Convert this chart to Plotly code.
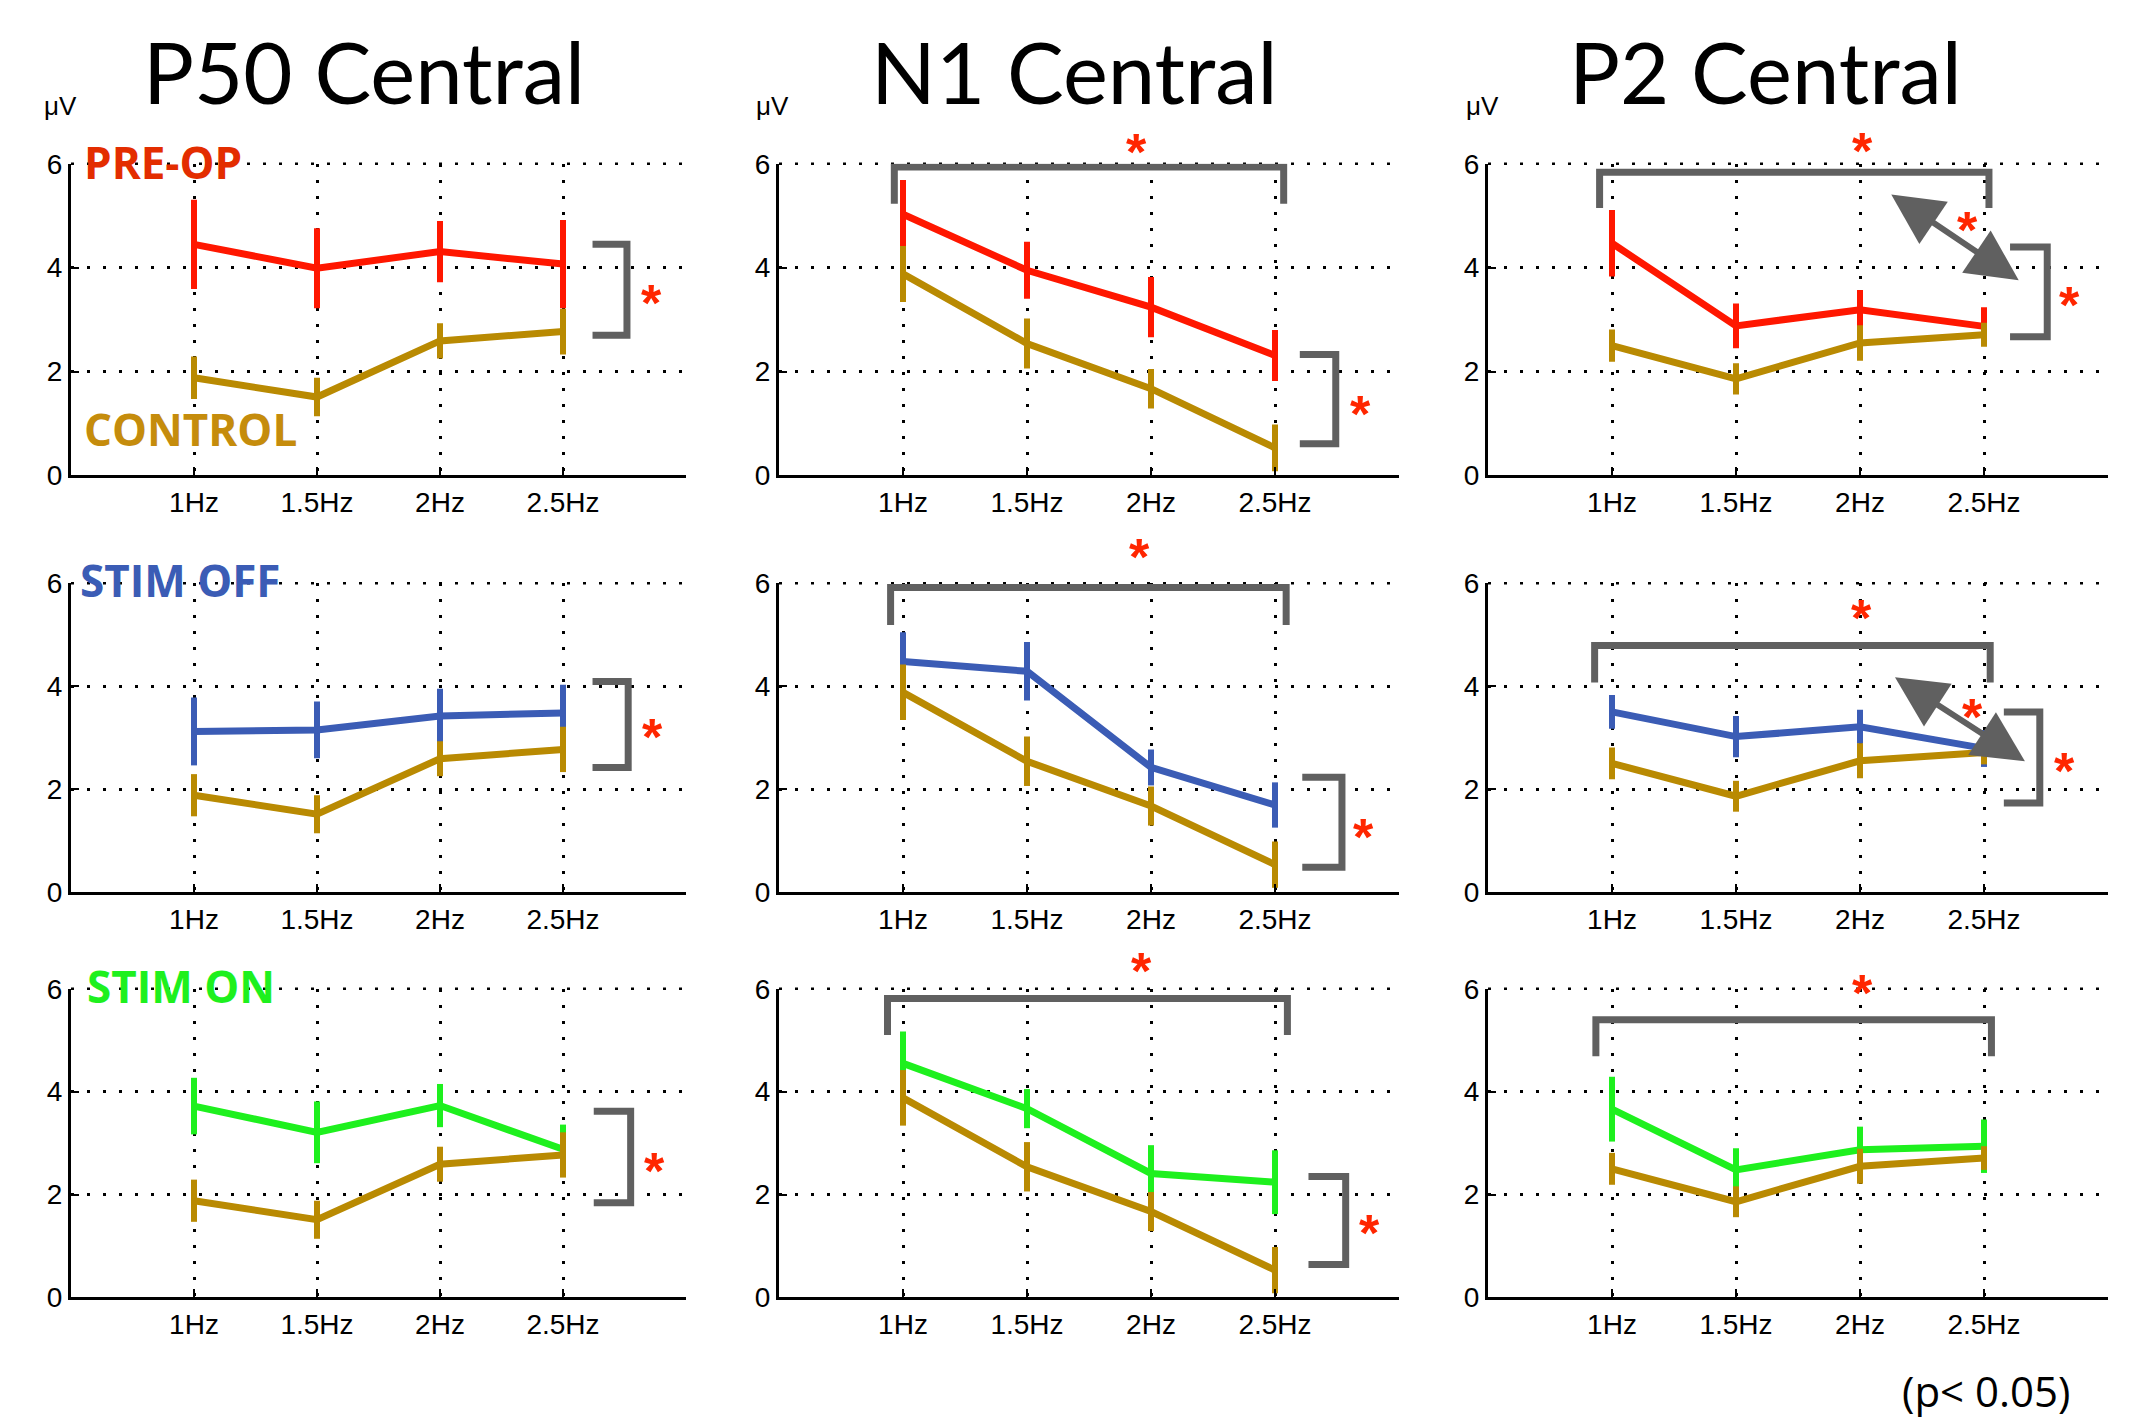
import plotly.graph_objects as go

# ---------------- data ----------------
freq_labels = ["1Hz", "1.5Hz", "2Hz", "2.5Hz"]
freq_pos = [1, 2, 3, 4]
y_ticks = [0, 2, 4, 6]
component_titles = ["P50 Central", "N1 Central", "P2 Central"]
group_names = ["PRE-OP", "STIM OFF", "STIM ON"]
control_name = "CONTROL"

control_p50 = [1.88, 1.51, 2.59, 2.77]
control_p50_err = [0.41, 0.37, 0.34, 0.44]
control_n1 = [3.88, 2.54, 1.67, 0.53]
control_n1_err = [0.54, 0.48, 0.38, 0.45]
control_p2 = [2.50, 1.86, 2.55, 2.71]
control_p2_err = [0.31, 0.30, 0.34, 0.23]

preop_p50 = [4.45, 3.99, 4.31, 4.07]
preop_p50_err = [0.86, 0.77, 0.59, 0.85]
preop_n1 = [5.03, 3.95, 3.24, 2.31]
preop_n1_err = [0.66, 0.55, 0.58, 0.49]
preop_p2 = [4.47, 2.88, 3.19, 2.87]
preop_p2_err = [0.64, 0.43, 0.38, 0.37]

stimoff_p50 = [3.12, 3.15, 3.42, 3.48]
stimoff_p50_err = [0.66, 0.55, 0.53, 0.55]
stimoff_n1 = [4.48, 4.29, 2.42, 1.69]
stimoff_n1_err = [0.57, 0.57, 0.35, 0.44]
stimoff_p2 = [3.50, 3.02, 3.21, 2.79]
stimoff_p2_err = [0.33, 0.40, 0.33, 0.36]

stimon_p50 = [3.72, 3.21, 3.73, 2.88]
stimon_p50_err = [0.55, 0.60, 0.42, 0.48]
stimon_n1 = [4.55, 3.67, 2.41, 2.24]
stimon_n1_err = [0.62, 0.38, 0.55, 0.62]
stimon_p2 = [3.66, 2.48, 2.87, 2.94]
stimon_p2_err = [0.63, 0.42, 0.45, 0.52]

control_series = [(control_p50, control_p50_err), (control_n1, control_n1_err), (control_p2, control_p2_err)]
group_series = [
    [(preop_p50, preop_p50_err), (preop_n1, preop_n1_err), (preop_p2, preop_p2_err)],
    [(stimoff_p50, stimoff_p50_err), (stimoff_n1, stimoff_n1_err), (stimoff_p2, stimoff_p2_err)],
    [(stimon_p50, stimon_p50_err), (stimon_n1, stimon_n1_err), (stimon_p2, stimon_p2_err)],
]

# ---------------- styles ----------------
W, H = 2145, 1422
group_colors = ["#FF1700", "#3B5CB5", "#1EF01E"]
group_text_colors = ["#E32D00", "#3B5CB5", "#1EF01E"]
control_color = "#B98A02"
control_text_color = "#C58C0C"
bracket_color = "#606060"
star_color = "#FF2600"

# on-screen targets (px) and the vertical correction observed in the renderer
V_OFF, V_SCALE = 14.0, 0.9794


def vy(t):
    """screen-pixel target -> layout pixel"""
    return (t - V_OFF) / V_SCALE


col_px = [(71, 686), (779, 1399), (1488, 2108)]
row_px_screen = [(163, 475), (583, 892), (989, 1298)]
row_px = [(vy(a), vy(b)) for a, b in row_px_screen]

# significance marks (annotation geometry in data units)
top_brackets = {  # (row, col): (x0, x1, ybar, yleg, star_x, star_y)
    (0, 1): (0.93, 4.07, 5.94, 5.23, 2.88, 6.55),
    (0, 2): (0.90, 4.04, 5.84, 5.15, 3.02, 6.58),
    (1, 1): (0.90, 4.09, 5.92, 5.19, 2.91, 6.77),
    (1, 2): (0.86, 4.05, 4.79, 4.07, 3.01, 5.57),
    (2, 1): (0.875, 4.10, 5.81, 5.10, 2.92, 6.60),
    (2, 2): (0.87, 4.06, 5.40, 4.69, 3.02, 6.18),
}
right_brackets = {  # (row, col): (x_stub, x_vert, ytop, ybot, star_x, star_y)
    (0, 0): (4.24, 4.52, 4.45, 2.70, 4.72, 3.58),
    (0, 1): (4.20, 4.49, 2.33, 0.61, 4.69, 1.44),
    (0, 2): (4.21, 4.51, 4.40, 2.67, 4.69, 3.54),
    (1, 0): (4.24, 4.53, 4.09, 2.42, 4.73, 3.26),
    (1, 1): (4.22, 4.54, 2.23, 0.48, 4.71, 1.32),
    (1, 2): (4.16, 4.45, 3.50, 1.73, 4.65, 2.60),
    (2, 0): (4.25, 4.55, 3.62, 1.84, 4.74, 2.71),
    (2, 1): (4.27, 4.57, 2.35, 0.64, 4.76, 1.50),
}
arrows = {  # (row, col): (xa, ya, xb, yb, star_x, star_y)
    (0, 2): (3.24, 5.43, 4.28, 3.76, 3.87, 4.98),
    (1, 2): (3.27, 4.19, 4.33, 2.54, 3.91, 3.66),
}


def to_paper(r, c, x, y):
    x0p, x1p = col_px[c]
    ytp, ybp = row_px[r]
    px = x0p + x / 5.0 * (x1p - x0p)
    py = ybp - y / 6.0 * (ybp - ytp)
    return px / W, 1 - py / H


fig = go.Figure()
layout = dict(
    width=W, height=H, autosize=False,
    margin=dict(l=0, r=0, t=0, b=0, pad=0),
    paper_bgcolor="white", plot_bgcolor="white",
    showlegend=False,
)
annotations = []
shapes = []

tick_font = dict(family="Liberation Sans, Arial, sans-serif", size=28, color="black")
grid_dash = "3px,13px"
star_font = dict(family="Liberation Sans, Arial", size=52, color=star_color)


def add_star(r, c, x, y, shift=-4):
    sx, sy = to_paper(r, c, x, y)
    annotations.append(dict(x=sx, y=sy, xref="paper", yref="paper", text="<b>*</b>",
                            xanchor="center", yanchor="middle", height=40, valign="top",
                            showarrow=False, font=star_font, yshift=shift))


for r in range(3):
    for c in range(3):
        k = r * 3 + c + 1
        xa = "x" if k == 1 else f"x{k}"
        ya = "y" if k == 1 else f"y{k}"
        x0p, x1p = col_px[c]
        ytp, ybp = row_px[r]
        layout[f"xaxis{k}"] = dict(
            domain=[x0p / W, x1p / W], anchor=ya, range=[0, 5],
            tickvals=freq_pos, ticktext=freq_labels, ticks="inside", ticklen=8,
            tickwidth=2, tickcolor="black", showline=True, linecolor="black",
            linewidth=3, showgrid=True, gridcolor="black", gridwidth=2.5,
            griddash=grid_dash, zeroline=False, tickfont=tick_font, fixedrange=True,
        )
        layout[f"yaxis{k}"] = dict(
            domain=[1 - ybp / H, 1 - ytp / H], anchor=xa, range=[0, 6],
            tickvals=y_ticks, ticks="inside", ticklen=8, tickwidth=2,
            tickcolor="black", showline=True, linecolor="black", linewidth=3,
            showgrid=True, gridcolor="black", gridwidth=2.5, griddash=grid_dash,
            zeroline=False, tickfont=tick_font, fixedrange=True,
        )
        # top dotted grid line at the upper limit (plotly drops the edge gridline)
        gx0, gy = to_paper(r, c, 0, 6)
        gx1, _ = to_paper(r, c, 5, 6)
        shapes.append(dict(type="line", xref="paper", yref="paper", x0=gx0, x1=gx1, y0=gy, y1=gy,
                           line=dict(color="black", width=2.5, dash=grid_dash), layer="below"))

        gm, ge = group_series[r][c]
        cm, ce = control_series[c]
        fig.add_trace(go.Scatter(
            x=freq_pos, y=gm, mode="lines", xaxis=xa, yaxis=ya,
            line=dict(color=group_colors[r], width=7),
            error_y=dict(type="data", array=ge, visible=True, color=group_colors[r], thickness=6, width=0),
            hoverinfo="skip",
        ))
        fig.add_trace(go.Scatter(
            x=freq_pos, y=cm, mode="lines", xaxis=xa, yaxis=ya,
            line=dict(color=control_color, width=7),
            error_y=dict(type="data", array=ce, visible=True, color=control_color, thickness=6, width=0),
            hoverinfo="skip",
        ))
        if (r, c) in top_brackets:
            bx0, bx1, yb, yl, sx, sy = top_brackets[(r, c)]
            shapes.append(dict(type="path", xref=xa, yref=ya,
                               path=f"M {bx0},{yl} L {bx0},{yb} L {bx1},{yb} L {bx1},{yl}",
                               line=dict(color=bracket_color, width=7)))
            add_star(r, c, sx, sy, shift=-8 if r == 0 else -4)
        if (r, c) in right_brackets:
            xs, xv, yt, yb2, sx, sy = right_brackets[(r, c)]
            shapes.append(dict(type="path", xref=xa, yref=ya,
                               path=f"M {xs},{yt} L {xv},{yt} L {xv},{yb2} L {xs},{yb2}",
                               line=dict(color=bracket_color, width=7)))
            add_star(r, c, sx, sy)
        if (r, c) in arrows:
            xa_, ya_, xb_, yb_, sx, sy = arrows[(r, c)]
            annotations.append(dict(x=xb_, y=yb_, ax=xa_, ay=ya_, xref=xa, yref=ya,
                                    axref=xa, ayref=ya, text="", showarrow=True,
                                    arrowhead=2, arrowside="end+start", arrowsize=1.7,
                                    arrowwidth=6, arrowcolor=bracket_color))
            add_star(r, c, sx, sy)

# group labels
label_font = "Open Sans, Noto Sans, sans-serif"
label_pos = [(0.09, 6.04), (0.06, 6.06), (0.11, 6.06)]
for r in range(3):
    lx, ly = to_paper(r, 0, *label_pos[r])
    annotations.append(dict(x=lx, y=ly, xref="paper", yref="paper", xanchor="left", yanchor="middle",
                            text=f"<b>{group_names[r]}</b>", showarrow=False,
                            font=dict(family=label_font, size=44, color=group_text_colors[r])))
cx, cy = to_paper(0, 0, 0.09, 0.90)
annotations.append(dict(x=cx, y=cy, xref="paper", yref="paper", xanchor="left", yanchor="middle",
                        text=f"<b>{control_name}</b>", showarrow=False,
                        font=dict(family=label_font, size=44, color=control_text_color)))

# titles
title_cx = [364, 1074, 1765]
for c in range(3):
    annotations.append(dict(x=title_cx[c] / W, y=1 - vy(70) / H, xref="paper", yref="paper",
                            xanchor="center", yanchor="middle", text=component_titles[c],
                            showarrow=False,
                            font=dict(family="Lato, Open Sans, sans-serif", size=85, color="black")))

# unit labels
unit_x = [60, 772, 1482]
for c in range(3):
    annotations.append(dict(x=unit_x[c] / W, y=1 - vy(105) / H, xref="paper", yref="paper",
                            xanchor="center", yanchor="middle", text="μV", showarrow=False,
                            font=dict(family="Liberation Sans, Arial", size=26, color="black")))

# p-value note
annotations.append(dict(x=2072 / W, y=1 - vy(1391) / H, xref="paper", yref="paper",
                        xanchor="right", yanchor="middle", text="(p< 0.05)", showarrow=False,
                        font=dict(family="Open Sans, Noto Sans, sans-serif", size=42, color="black")))

layout["annotations"] = annotations
layout["shapes"] = shapes
fig.update_layout(**layout)

fig.write_html(
    "out.html",
    config={"displayModeBar": False},
    post_script=(
        "document.documentElement.style.margin='0';document.documentElement.style.padding='0';"
        "document.body.style.margin='0';document.body.style.padding='0';"
        "document.documentElement.style.overflow='hidden';document.body.style.overflow='hidden';"
        "window.scrollTo(0,0);"
    ),
)
